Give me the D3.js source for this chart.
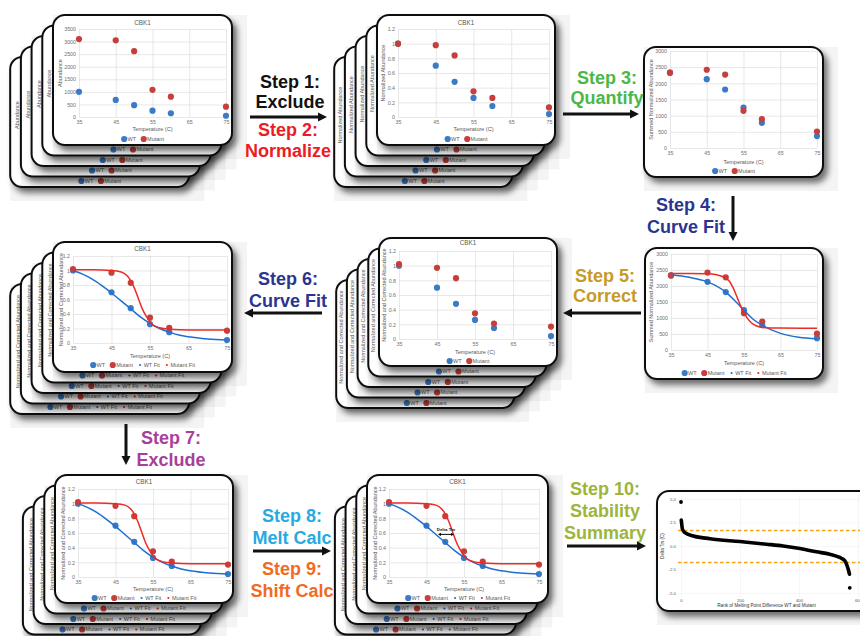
<!DOCTYPE html>
<html><head><meta charset="utf-8">
<script src="https://cdn.jsdelivr.net/npm/d3@7"></script>
<style>html,body{margin:0;padding:0;background:#fff}svg{display:block;font-family:"Liberation Sans",Arial,sans-serif}</style>
</head><body>
<svg id="c" width="860" height="636">
<defs>
<filter id="sh" x="-20%" y="-20%" width="150%" height="150%">
<feGaussianBlur in="SourceAlpha" stdDeviation="3"/>
<feOffset dx="4" dy="5"/>
<feComponentTransfer><feFuncA type="linear" slope="0.55"/></feComponentTransfer>
<feMerge><feMergeNode/><feMergeNode in="SourceGraphic"/></feMerge>
</filter>
</defs>
</svg>
<script>
// ---------------- DATA ----------------
const temps = [35, 45, 50, 55, 60, 75];
const xTickVals = [35, 45, 55, 65, 75];
const rawWT  = [1000, 680, 470, 250, 150, 50];
const rawMut = [3100, 3050, 2620, 1080, 810, 410];
const normWT  = [1.0, 0.70, 0.48, 0.26, 0.15, 0.04];
const normMut = [1.0, 0.98, 0.84, 0.35, 0.26, 0.13];
const sumWT  = [2330, 2130, 1810, 1250, 780, 370];
const sumMut = [2330, 2420, 2270, 1150, 890, 510];
const corrWT  = [1.0, 0.70, 0.48, 0.26, 0.15, 0.04];
const corrMut = [1.02, 0.97, 0.83, 0.35, 0.21, 0.17];
const wtFitT = [35, 37.5, 40, 42.5, 45, 47.5, 50, 52.5, 55, 57.5, 60, 62.5, 65, 70, 75];
const wtFitV = [1.0, 0.95, 0.88, 0.79, 0.69, 0.58, 0.47, 0.36, 0.27, 0.20, 0.15, 0.11, 0.085, 0.055, 0.04];
const mutFitT = [35, 40, 45, 47.5, 49, 50, 51, 52, 53, 54, 55, 56, 57.5, 60, 65, 75];
const mutFitV = [1.01, 1.01, 1.0, 0.98, 0.93, 0.86, 0.75, 0.61, 0.47, 0.37, 0.29, 0.24, 0.21, 0.19, 0.18, 0.18];
const sumWTFitT = [35, 40, 45, 50, 52.5, 55, 57.5, 60, 65, 70, 75];
const sumWTFitV = [2350, 2270, 2130, 1810, 1540, 1240, 960, 770, 520, 400, 350];
const sumMutFitT = [35, 40, 45, 47.5, 50, 51, 52, 53, 54, 55, 56, 57, 58.5, 60, 65, 75];
const sumMutFitV = [2390, 2390, 2385, 2350, 2250, 2150, 1950, 1680, 1400, 1170, 980, 850, 750, 705, 685, 680];
const yTicksRaw  = [0, 500, 1000, 1500, 2000, 2500, 3000, 3500];
const yTicksNorm = [0, 0.2, 0.4, 0.6, 0.8, 1, 1.2];
const yTicksSum  = [0, 500, 1000, 1500, 2000, 2500, 3000];
const deltaLevel = 0.58, deltaFrom = 48.1, deltaTo = 52.3;
// Stability summary
const rankBand  = [1, 2, 5, 13, 42, 98, 200, 290, 346, 403, 459, 504, 538, 555, 563, 568, 571];
const deltaBand = [2.75, 2.45, 1.78, 1.42, 1.06, 0.78, 0.47, 0.19, 0.0, -0.27, -0.62, -0.88, -1.22, -1.55, -2.1, -2.6, -3.0];
const rankOut  = [0, 572];
const deltaOut = [4.68, -4.45];
const thresholds = [1.65, -1.65];
const rankTicks = [0, 200, 400, 600];
const deltaTicks = [-5, -2.5, 0, 2.5, 5];

// ---------------- STYLE ----------------
const COL = {wt: '#3b7ac6', mut: '#c63f3c', wtFit: '#1f6fd0', mutFit: '#ee2a24'};
const svg = d3.select('#c');
const FONT = '"Liberation Sans",Arial,sans-serif';

function legend(g, items, cx, cy) {
  const lg = g.append('g');
  let xx = 0;
  items.forEach((it, i) => {
    if (i > 0) xx += it.small ? 6 : 4.5;
    const r = it.small ? 1.1 : 3.1;
    lg.append('circle').attr('cx', xx + r).attr('cy', 0).attr('r', r).attr('fill', it.color);
    xx += 2 * r + (it.small ? 2.5 : 0.3);
    const t = lg.append('text').attr('x', xx).attr('y', 0).attr('dy', '0.35em')
      .attr('font-size', 5.5).attr('fill', '#595959').text(it.label);
    xx += t.node().getComputedTextLength();
  });
  lg.attr('transform', `translate(${cx - xx / 2},${cy})`);
}

function cardFrame(parent, x, y, w, h) {
  const g = parent.append('g').attr('transform', `translate(${x},${y})`);
  g.append('rect').attr('x', 0).attr('y', 0).attr('width', w + 15).attr('height', h + 14)
    .attr('fill', '#000').attr('opacity', 0.045);
  g.append('rect').attr('width', w).attr('height', h).attr('rx', 12).attr('ry', 12)
    .attr('fill', '#fff').attr('stroke', '#111').attr('stroke-width', 2).attr('filter', 'url(#sh)');
  return g;
}

function chartCard(parent, c, x0, y0) {
  const g = cardFrame(parent, x0, y0, c.w, c.h);
  const x = d3.scaleLinear().domain([35, 75]).range([c.pl, c.pr]);
  const y = d3.scaleLinear().domain([0, c.yTicks[c.yTicks.length - 1]]).range([c.pb, c.pt]);
  const fmt = c.fmt || (d => String(d));
  const ay = g.append('g').attr('transform', `translate(${c.pl},0)`)
    .call(d3.axisLeft(y).tickValues(c.yTicks).tickSize(-(c.pr - c.pl)).tickPadding(3).tickFormat(fmt));
  const ax = g.append('g').attr('transform', `translate(0,${c.pb})`)
    .call(d3.axisBottom(x).tickValues(xTickVals).tickSize(-(c.pb - c.pt)).tickPadding(3).tickFormat(d => d));
  [ax, ay].forEach(a => {
    a.select('.domain').remove();
    a.selectAll('line').attr('stroke', '#d9d9d9').attr('stroke-width', 0.6);
    a.selectAll('text').attr('font-size', 5.3).attr('fill', '#6f6f6f').attr('font-family', FONT);
  });
  if (c.title) g.append('text').attr('x', c.w / 2).attr('y', c.titleY).attr('text-anchor', 'middle')
    .attr('font-size', 6.3).attr('fill', '#595959').text('CBK1');
  g.append('text').attr('x', (c.pl + c.pr) / 2).attr('y', c.xLabY).attr('dy', '0.35em').attr('text-anchor', 'middle')
    .attr('font-size', 5.5).attr('fill', '#595959').text('Temperature (C)');
  g.append('text').attr('transform', `translate(${c.yLabX},${(c.pt + c.pb) / 2}) rotate(-90)`)
    .attr('text-anchor', 'middle').attr('dy', '0.35em').attr('font-size', 5.5).attr('fill', '#595959').text(c.yLab);
  const pts = (vals, col) => g.append('g').selectAll('circle').data(temps.map((t, i) => [t, vals[i]])).join('circle')
    .attr('cx', d => x(d[0])).attr('cy', d => y(d[1])).attr('r', 3.1).attr('fill', col);
  pts(c.wt, COL.wt);
  pts(c.mut, COL.mut);
  const items = [{label: 'WT', color: COL.wt}, {label: 'Mutant', color: COL.mut}];
  if (c.fits) {
    const line = d3.line().x(d => x(d[0])).y(d => y(d[1])).curve(d3.curveMonotoneX);
    g.append('path').attr('d', line(c.fits.wtT.map((t, i) => [t, c.fits.wtV[i]])))
      .attr('fill', 'none').attr('stroke', COL.wtFit).attr('stroke-width', 1.5);
    g.append('path').attr('d', line(c.fits.mutT.map((t, i) => [t, c.fits.mutV[i]])))
      .attr('fill', 'none').attr('stroke', COL.mutFit).attr('stroke-width', 1.5);
    items.push({label: 'WT Fit', color: COL.wtFit, small: true}, {label: 'Mutant Fit', color: COL.mutFit, small: true});
  }
  if (c.delta) {
    const yy = y(deltaLevel), xa = x(deltaFrom), xb = x(deltaTo);
    g.append('line').attr('x1', xa + 2).attr('x2', xb - 2).attr('y1', yy).attr('y2', yy).attr('stroke', '#000').attr('stroke-width', 0.9);
    g.append('path').attr('d', `M${xa},${yy}l2.8,-1.6v3.2z M${xb},${yy}l-2.8,-1.6v3.2z`).attr('fill', '#000');
    g.append('text').attr('x', (xa + xb) / 2).attr('y', yy - 3).attr('text-anchor', 'middle')
      .attr('font-size', 4.4).attr('font-weight', 'bold').attr('fill', '#111').text('Delta Tm');
  }
  legend(g, items, c.w / 2, c.legY);
}

function stack(c) {
  const g = svg.append('g');
  for (let k = c.back; k >= 0; k--) chartCard(g, c, c.x - 10.7 * k, c.y + 10.5 * k);
}

const normFmt = d => String(+d.toFixed(1));
const corrFits = {wtT: wtFitT, wtV: wtFitV, mutT: mutFitT, mutV: mutFitV};
const sumFits = {wtT: sumWTFitT, wtV: sumWTFitV, mutT: sumMutFitT, mutV: sumMutFitV};

const cards = [
  {x: 53, y: 15, w: 179, h: 130, back: 4, pl: 26, pr: 173, pt: 14, pb: 102, title: true, titleY: 9.5, xLabY: 114, legY: 124, yLabX: 7,
   yLab: 'Abundance', yTicks: yTicksRaw, wt: rawWT, mut: rawMut},
  {x: 377, y: 15, w: 178, h: 130, back: 4, pl: 21, pr: 172, pt: 14, pb: 102, title: true, titleY: 9.5, xLabY: 114, legY: 124, yLabX: 6,
   yLab: 'Normalized Abundance', yTicks: yTicksNorm, fmt: normFmt, wt: normWT, mut: normMut},
  {x: 644, y: 47, w: 179, h: 130, back: 0, pl: 26, pr: 173, pt: 4, pb: 101, title: false, xLabY: 115, legY: 124, yLabX: 7,
   yLab: 'Summed Normalized Abundance', yTicks: yTicksSum, wt: sumWT, mut: sumMut},
  {x: 645, y: 248, w: 178, h: 131, back: 0, pl: 26, pr: 172, pt: 6, pb: 102, title: false, xLabY: 115, legY: 125, yLabX: 6,
   yLab: 'Summed Normalized Abundance', yTicks: yTicksSum, wt: sumWT, mut: sumMut, fits: sumFits},
  {x: 379, y: 238, w: 178, h: 128, back: 4, pl: 20, pr: 172, pt: 13, pb: 101, title: true, titleY: 7, xLabY: 114, legY: 123, yLabX: 5,
   yLab: 'Normalized and Corrected Abundance', yTicks: yTicksNorm, fmt: normFmt, wt: corrWT, mut: corrMut},
  {x: 53, y: 242, w: 179, h: 130, back: 4, pl: 20, pr: 174, pt: 14, pb: 101, title: true, titleY: 8.5, xLabY: 114, legY: 123, yLabX: 8,
   yLab: 'Normalized and Corrected Abundance', yTicks: yTicksNorm, fmt: normFmt, wt: corrWT, mut: corrMut, fits: corrFits},
  {x: 55, y: 475, w: 178, h: 128, back: 3, pl: 23, pr: 173, pt: 14, pb: 102, title: true, titleY: 8.5, xLabY: 114, legY: 123, yLabX: 8,
   yLab: 'Normalized and Corrected Abundance', yTicks: yTicksNorm, fmt: normFmt, wt: corrWT, mut: corrMut, fits: corrFits},
  {x: 367, y: 475, w: 181, h: 128, back: 3, pl: 22, pr: 172, pt: 14, pb: 102, title: true, titleY: 8.5, xLabY: 114, legY: 123, yLabX: 8,
   yLab: 'Normalized and Corrected Abundance', yTicks: yTicksNorm, fmt: normFmt, wt: corrWT, mut: corrMut, fits: corrFits, delta: true}
];
cards.forEach(stack);

// ---------------- Stability summary card ----------------
(function () {
  const c = {x: 657, y: 491, w: 230, h: 120, pl: 24, pr: 201, pt: 8, pb: 102};
  const g = cardFrame(svg, c.x, c.y, c.w, c.h);
  const x = d3.scaleLinear().domain([0, 600]).range([c.pl, c.pr]);
  const y = d3.scaleLinear().domain([-5, 5]).range([c.pb, c.pt]);
  const ay = g.append('g').attr('transform', `translate(${c.pl - 3},0)`)
    .call(d3.axisLeft(y).tickValues(deltaTicks).tickSize(-(c.pr - c.pl + 10)).tickPadding(2).tickFormat(d => d.toFixed(1)));
  const ax = g.append('g').attr('transform', `translate(0,${c.pb + 4})`)
    .call(d3.axisBottom(x).tickValues(rankTicks).tickSize(-(c.pb - c.pt + 8)).tickPadding(2).tickFormat(d => d));
  [ax, ay].forEach(a => {
    a.select('.domain').remove();
    a.selectAll('line').attr('stroke', '#ececec').attr('stroke-width', 0.5);
    a.selectAll('text').attr('font-size', 4.3).attr('fill', '#555').attr('font-family', FONT);
  });
  g.append('g').attr('transform', 'translate(0,0.5)').selectAll('line').data(thresholds).join('line')
    .attr('x1', c.pl - 3).attr('x2', c.w).attr('y1', d => Math.round(y(d))).attr('y2', d => Math.round(y(d)))
    .attr('stroke', '#f7a21b').attr('stroke-width', 1.3).attr('stroke-dasharray', '3.5,2.5');
  const line = d3.line().x(d => x(d[0])).y(d => y(d[1])).curve(d3.curveMonotoneX);
  const band = rankBand.map((r, i) => [r, deltaBand[i]]);
  g.append('path').attr('d', line(band)).attr('fill', 'none').attr('stroke', '#000')
    .attr('stroke-width', 3.6).attr('stroke-linecap', 'round').attr('stroke-linejoin', 'round');
  g.append('g').selectAll('circle').data(rankOut.map((r, i) => [r, deltaOut[i]])).join('circle')
    .attr('cx', d => x(d[0])).attr('cy', d => y(d[1])).attr('r', 1.9).attr('fill', '#000');
  g.append('text').attr('transform', `translate(5,${(c.pt + c.pb) / 2}) rotate(-90)`).attr('text-anchor', 'middle')
    .attr('dy', '0.35em').attr('font-size', 4.5).attr('fill', '#333').text('Delta Tm (C)');
  g.append('text').attr('x', (c.pl + c.pr) / 2 - 3).attr('y', 116).attr('text-anchor', 'middle')
    .attr('font-size', 4.6).attr('fill', '#333').text('Rank of Melting Point Difference WT and Mutant');
})();

// ---------------- Step labels & arrows ----------------
function stepText(lines, cx, baselines, color) {
  lines.forEach((t, i) => svg.append('text').attr('x', cx).attr('y', baselines[i]).attr('text-anchor', 'middle')
    .attr('font-size', 18).attr('font-weight', 'bold').attr('fill', color).text(t));
}
function arrow(x1, y1, x2, y2) {
  const a = Math.atan2(y2 - y1, x2 - x1), hl = 9, hw = 4.5;
  const bx = x2 - hl * Math.cos(a), by = y2 - hl * Math.sin(a);
  svg.append('line').attr('x1', x1).attr('y1', y1).attr('x2', bx).attr('y2', by).attr('stroke', '#111').attr('stroke-width', 3);
  const px = -Math.sin(a) * hw, py = Math.cos(a) * hw;
  svg.append('path').attr('d', `M${x2},${y2}L${bx + px},${by + py}L${bx - px},${by - py}Z`).attr('fill', '#111');
}
stepText(['Step 1:', 'Exclude'], 290, [88, 108], '#111');
stepText(['Step 2:', 'Normalize'], 288, [136, 157], '#ec1c24');
stepText(['Step 3:', 'Quantify'], 607, [84, 104], '#4cb748');
stepText(['Step 4:', 'Curve Fit'], 686, [211, 233], '#2b3590');
stepText(['Step 5:', 'Correct'], 605, [282, 302], '#c79a2a');
stepText(['Step 6:', 'Curve Fit'], 288, [285, 307], '#2b3590');
stepText(['Step 7:', 'Exclude'], 171, [444, 466], '#a8409a');
stepText(['Step 8:', 'Melt Calc'], 292, [522, 544], '#27aae1');
stepText(['Step 9:', 'Shift Calc'], 292, [575, 597], '#f26a21');
stepText(['Step 10:', 'Stability', 'Summary'], 605, [495, 517, 539], '#9cb53b');
arrow(250, 117, 327, 117);
arrow(563, 114, 639, 114);
arrow(733, 196, 733, 241);
arrow(641, 313, 563, 313);
arrow(322, 313, 244, 313);
arrow(126, 424, 126, 465);
arrow(253, 551, 331, 551);
arrow(567, 546, 646, 546);
</script>
</body></html>
